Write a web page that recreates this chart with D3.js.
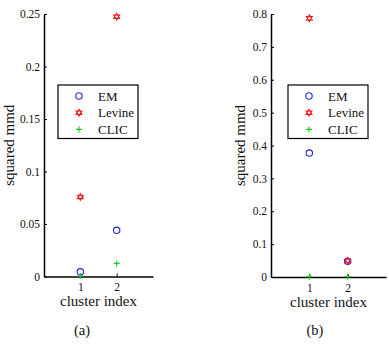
<!DOCTYPE html>
<html><head><meta charset="utf-8">
<script src="https://cdn.jsdelivr.net/npm/d3@7"></script>
<style>body{margin:0;background:#fff}svg{display:block}</style>
</head><body>
<svg id="c" width="389" height="348"></svg>
<script>
const clusters = [1, 2];
const seriesNames = ["EM", "Levine", "CLIC"];
const aEM = [0.0045, 0.044];
const aLevine = [0.0758, 0.2475];
const aCLIC = [0.0005, 0.0125];
const bEM = [0.377, 0.048];
const bLevine = [0.787, 0.049];
const bCLIC = [0.001, 0.001];
const aTicks = [0, 0.05, 0.1, 0.15, 0.2, 0.25];
const aTickLabels = ["0", "0.05", "0.1", "0.15", "0.2", "0.25"];
const bTicks = [0, 0.1, 0.2, 0.3, 0.4, 0.5, 0.6, 0.7, 0.8];
const bTickLabels = ["0", "0.1", "0.2", "0.3", "0.4", "0.5", "0.6", "0.7", "0.8"];
const xTicks = [1, 2];
const captions = ["(a)", "(b)"];

const FONT = '"Liberation Serif"';
const colors = {EM: "#2323e6", Levine: "#ee2020", CLIC: "#1ec81e"};
const svg = d3.select("#c");

function hexagram(r) {
  const p = d3.path();
  for (let k = 0; k < 2; k++) {
    for (let i = 0; i < 3; i++) {
      const a = (k === 0 ? -Math.PI / 2 : Math.PI / 2) + i * 2 * Math.PI / 3;
      const x = r * Math.cos(a), y = r * Math.sin(a);
      if (i === 0) p.moveTo(x, y); else p.lineTo(x, y);
    }
    p.closePath();
  }
  return p.toString();
}

function txt(sel, size) { return sel.style("font-family", FONT).style("font-size", size + "px").style("fill", "#111"); }

function panel(o) {
  const x = d3.scaleLinear().domain([0, 3]).range([o.x0, o.x1]);
  const y = d3.scaleLinear().domain([0, o.ymax]).range([o.y0, o.y1]);
  const g = svg.append("g");
  const yAx = d3.axisLeft(y).tickValues(o.ticks).tickFormat((d, i) => o.labels[i]).tickSizeInner(-3).tickSizeOuter(0).tickPadding(5);
  const gy = g.append("g").attr("transform", `translate(${o.x0},0)`).call(yAx);
  const xAx = d3.axisBottom(x).tickValues(xTicks).tickFormat(d3.format("d")).tickSizeInner(-3).tickSizeOuter(0).tickPadding(5);
  const gx = g.append("g").attr("transform", `translate(0,${o.y0})`).call(xAx);
  [gy, gx].forEach(a => {
    a.attr("font-family", null).attr("font-size", null);
    a.select(".domain").attr("stroke", "#000").attr("stroke-width", 1.5);
    a.selectAll(".tick line").attr("stroke", "#000");
    txt(a.selectAll(".tick text"), 11.5);
  });
  gy.selectAll(".tick text").attr("x", -4);
  gx.selectAll(".tick text").attr("y", 0).attr("dy", null).attr("transform", "translate(0,14.5)");

  const data = [["EM", o.em], ["Levine", o.lev], ["CLIC", o.clic]];
  data.forEach(([name, vals]) => {
    const s = g.selectAll(null).data(clusters.map((c, i) => ({c, v: vals[i]}))).enter().append("g")
      .attr("transform", d => `translate(${x(d.c)},${y(d.v)})`);
    drawMarker(s, name);
  });

  txt(g.append("text"), 15).attr("x", (o.x0 + o.x1) / 2).attr("y", o.y0 + 29.5).attr("text-anchor", "middle").text("cluster index");
  txt(g.append("text"), 15).attr("transform", `translate(${o.ylx},${(o.y0 + o.y1) / 2}) rotate(-90)`).attr("text-anchor", "middle").text("squared mmd");
  txt(g.append("text"), 14.5).attr("x", o.capx).attr("y", 334.5).attr("text-anchor", "middle").text(o.cap);

  const lg = g.append("g");
  lg.append("rect").attr("x", o.lx).attr("y", 85).attr("width", 80).attr("height", 53.5).attr("fill", "#fff").attr("stroke", "#000").attr("stroke-width", 1.2);
  seriesNames.forEach((n, i) => {
    const yy = 96 + i * 16.7;
    drawMarker(lg.append("g").attr("transform", `translate(${o.lx + 21},${yy})`), n);
    txt(lg.append("text"), 13).attr("x", o.lx + 40).attr("y", yy + 4.5).text(n);
  });
}

function drawMarker(s, name) {
  if (name === "EM") {
    s.append("circle").attr("r", 3.2).attr("fill", "none").attr("stroke", colors.EM).attr("stroke-width", 1.1);
  } else if (name === "Levine") {
    s.append("path").attr("d", hexagram(3.4)).attr("fill", "none").attr("stroke", colors.Levine).attr("stroke-width", 1.1);
  } else {
    s.append("path").attr("d", "M-3,0H3M0,-3V3").attr("stroke", colors.CLIC).attr("stroke-width", 1.1);
  }
}

panel({x0: 44, x1: 153, y0: 276.5, y1: 14, ymax: 0.25, ticks: aTicks, labels: aTickLabels,
  em: aEM, lev: aLevine, clic: aCLIC, ylx: 13.5, cap: captions[0], capx: 82, lx: 58});
panel({x0: 271, x1: 386, y0: 277, y1: 14, ymax: 0.8, ticks: bTicks, labels: bTickLabels,
  em: bEM, lev: bLevine, clic: bCLIC, ylx: 245, cap: captions[1], capx: 315, lx: 288});
</script>
</body></html>
